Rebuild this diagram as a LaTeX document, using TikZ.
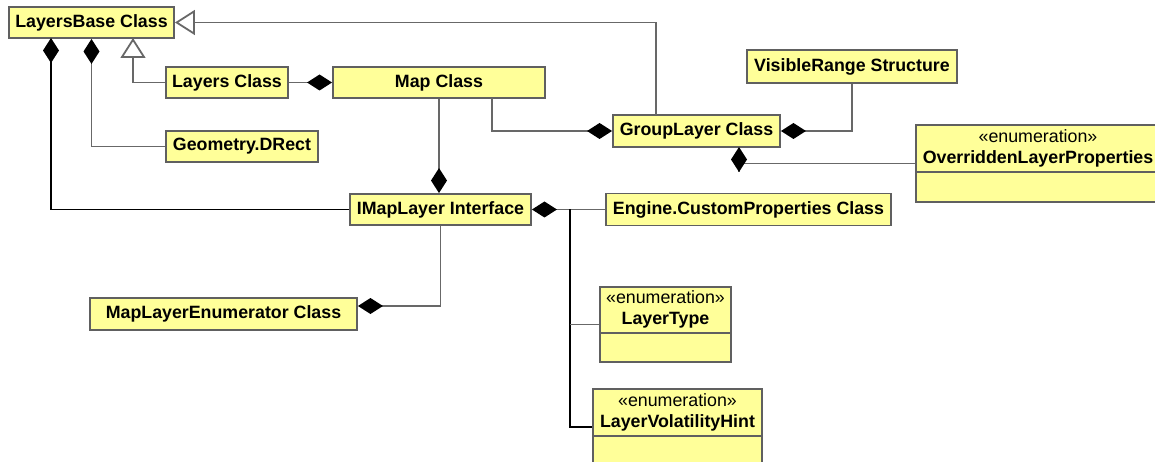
\documentclass[tikz,border=0pt]{standalone}
\usepackage{fontspec}
\setmainfont{Liberation Sans}
\usepackage{tikz}
\usetikzlibrary{arrows.meta,positioning}
\definecolor{umlyellow}{RGB}{255,255,153}
\definecolor{boxgray}{RGB}{96,96,96}
\definecolor{linegray}{RGB}{104,104,104}
\newcommand{\umlfont}{\fontsize{17.8}{21}\selectfont}
\tikzset{
  umlclass/.style={draw=boxgray,fill=umlyellow,line width=1.9pt,inner sep=0pt,
    minimum height=31pt,font=\umlfont\bfseries},
  umlenum/.style={draw=boxgray,fill=umlyellow,line width=1.9pt,inner sep=0pt},
  enumtitle/.style={align=center,inner sep=0pt,font=\umlfont},
  divider/.style={draw=boxgray,line width=1.9pt},
  assoc/.style={draw=linegray,line width=1.8pt},
  comp/.style={assoc,-{Diamond[length=25pt,width=16pt,color=black]}},
  inherit/.style={assoc,-{Triangle[open,length=20pt,width=25pt,fill=white]}},
}

\begin{document}
\begin{tikzpicture}[x=1pt,y=-1pt]
  \useasboundingbox[fill=white] (0,0) rectangle (1155,462);
  % classes
  \node[umlclass,minimum width=165pt] (base) at (91.5,22.5) {LayersBase Class};
  \node[umlclass,minimum width=122pt] (layers) at (227,82.5) {Layers Class};
  \node[umlclass,minimum width=212pt] (map) at (439,82.5) {Map Class};
  \node[umlclass,minimum width=152pt] (drect) at (242,146.5) {Geometry.DRect};
  \node[umlclass,minimum width=181pt] (imap) at (440.5,209.5) {IMapLayer Interface};
  \node[umlclass,minimum width=267pt,minimum height=32pt] (enumr) at (223.5,314) {MapLayerEnumerator Class};
  \node[umlclass,minimum width=285pt,minimum height=32pt] (custom) at (748.5,209.5) {Engine.CustomProperties Class};
  \node[umlclass,minimum width=167pt,minimum height=32pt] (group) at (696.5,131) {GroupLayer Class};
  \node[umlclass,minimum width=210pt,minimum height=33pt] (visible) at (852,66.5) {VisibleRange Structure};
  % enumerations
  \node[umlenum,minimum width=244pt,minimum height=77pt] (overr) at (1038,163.5) {};
  \node[enumtitle] (overr-title) at ([yshift=-24pt]overr.north) {«enumeration»\\\textbf{OverriddenLayerProperties}};
  \draw[divider] ([yshift=-48pt]overr.north west) -- ([yshift=-48pt]overr.north east);
  \node[umlenum,minimum width=131pt,minimum height=75pt] (ltype) at (665.5,324.5) {};
  \node[enumtitle] (ltype-title) at ([yshift=-23.5pt]ltype.north) {«enumeration»\\\textbf{LayerType}};
  \draw[divider] ([yshift=-47pt]ltype.north west) -- ([yshift=-47pt]ltype.north east);
  \node[umlenum,minimum width=169pt,minimum height=76pt] (lvol) at (677.5,427) {};
  \node[enumtitle] (lvol-title) at ([yshift=-24pt]lvol.north) {«enumeration»\\\textbf{LayerVolatilityHint}};
  \draw[divider] ([yshift=-48pt]lvol.north west) -- ([yshift=-48pt]lvol.north east);
  % connectors
  \coordinate (b-tri) at (133,38);
  \coordinate (b-left) at (51,38);
  \coordinate (g-top) at (656,115);
  \coordinate (m-grp) at (492,98);
  \coordinate (g-dia) at (739,147);
  \coordinate (trunk) at (570,209.5);
  \draw[inherit] (g-top) |- (base.east);
  \draw[inherit] (layers.west) -| (b-tri);
  \draw[comp] (drect.west) -| (base.south);
  \draw[comp,draw=black] (imap.west) -| (b-left);
  \draw[comp] (layers.east) -- (map.west);
  \draw[comp] (map.south) -- (map.south |- imap.north);
  \draw[comp] (m-grp) |- (group.west);
  \draw[comp] (visible.south) |- (group.east);
  \draw[assoc] (overr.west) -- (overr.west -| g-dia);
  \draw[comp] ([yshift=-25pt]g-dia) -- (g-dia);
  \draw[comp] (custom.west) -- (imap.east);
  \draw[comp] (imap.south) |- ([yshift=8pt]enumr.east);
  \draw[assoc,draw=black] (trunk) |- (lvol.west);
  \draw[assoc] (trunk |- ltype.west) -- (ltype.west);
\end{tikzpicture}
\end{document}
